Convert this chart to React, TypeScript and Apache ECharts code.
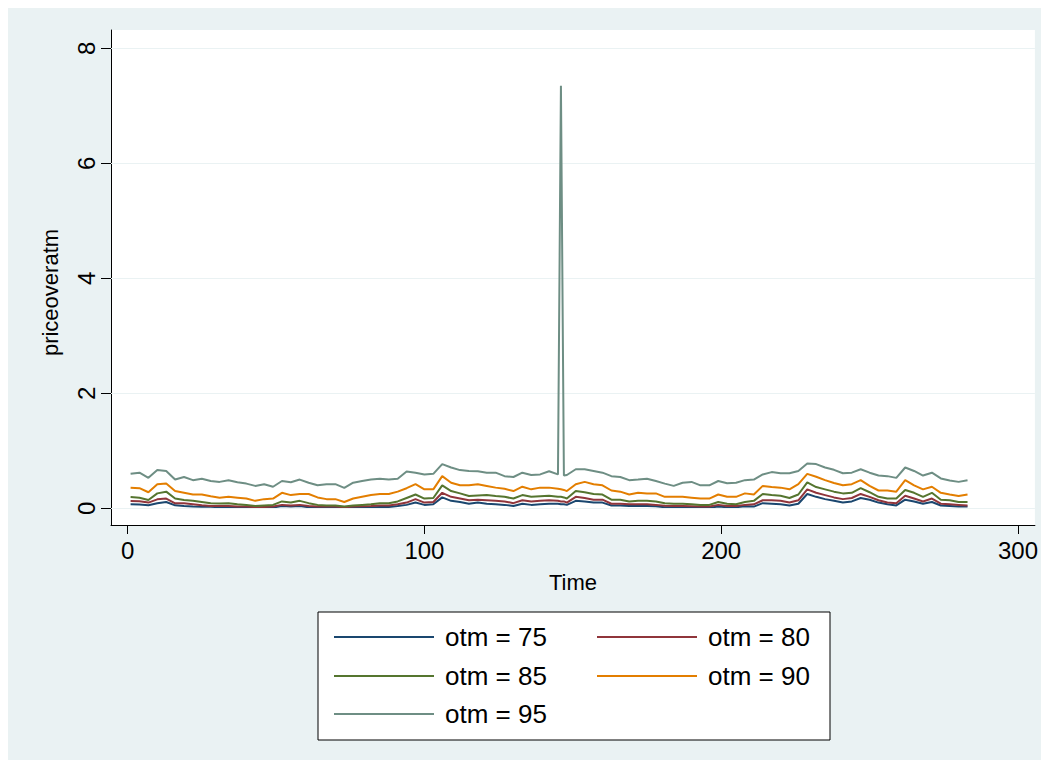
import React, { useEffect, useRef } from "react";
import * as echarts from "echarts";

const times = [
  1, 4, 7, 10, 13, 16, 19, 22, 25, 28, 31, 34,
  37, 40, 43, 46, 49, 52, 55, 58, 61, 64, 67,
  70, 73, 76, 79, 82, 85, 88, 91, 94, 97, 100, 103,
  106, 109, 112, 115, 118, 121, 124, 127, 130, 133, 136, 139,
  142, 145, 146, 147, 148, 151, 154, 157, 160, 163, 166, 169, 172, 175,
  178, 181, 184, 187, 190, 193, 196, 199, 202, 205, 208,
  211, 214, 217, 220, 223, 226, 229, 232, 235, 238, 241, 244,
  247, 250, 253, 256, 259, 262, 265, 268, 271, 274, 277, 280, 283,
];

const otm75 = [
  0.07, 0.068, 0.052, 0.087, 0.11, 0.052, 0.04, 0.03, 0.028, 0.026, 0.02, 0.026,
  0.015, 0.012, 0.008, 0.01, 0.012, 0.04, 0.03, 0.04, 0.02, 0.015, 0.012,
  0.01, 0.005, 0.01, 0.015, 0.02, 0.025, 0.025, 0.04, 0.06, 0.1, 0.06, 0.07,
  0.19, 0.13, 0.11, 0.08, 0.1, 0.08, 0.07, 0.06, 0.04, 0.08, 0.06, 0.07,
  0.08, 0.08, 0.07, 0.07, 0.06, 0.13, 0.12, 0.1, 0.1, 0.05, 0.05, 0.04, 0.04, 0.04,
  0.035, 0.02, 0.02, 0.02, 0.015, 0.01, 0.01, 0.03, 0.02, 0.02, 0.035,
  0.03, 0.09, 0.08, 0.07, 0.05, 0.08, 0.25, 0.2, 0.16, 0.13, 0.1, 0.12,
  0.18, 0.15, 0.1, 0.07, 0.05, 0.15, 0.12, 0.08, 0.11, 0.05, 0.04, 0.03, 0.03,
];

const otm80 = [
  0.127, 0.125, 0.1, 0.156, 0.17, 0.087, 0.087, 0.07, 0.052, 0.04, 0.04, 0.04,
  0.03, 0.03, 0.02, 0.025, 0.03, 0.06, 0.05, 0.06, 0.04, 0.03, 0.03,
  0.03, 0.02, 0.03, 0.035, 0.04, 0.05, 0.05, 0.07, 0.1, 0.16, 0.1, 0.11,
  0.27, 0.2, 0.17, 0.14, 0.15, 0.14, 0.13, 0.12, 0.09, 0.14, 0.12, 0.13,
  0.14, 0.13, 0.12, 0.12, 0.1, 0.2, 0.18, 0.15, 0.15, 0.08, 0.08, 0.07, 0.07, 0.07,
  0.06, 0.045, 0.04, 0.04, 0.035, 0.03, 0.03, 0.06, 0.04, 0.04, 0.06,
  0.07, 0.14, 0.14, 0.13, 0.1, 0.14, 0.33, 0.27, 0.23, 0.19, 0.16, 0.18,
  0.25, 0.2, 0.14, 0.1, 0.09, 0.22, 0.17, 0.12, 0.17, 0.08, 0.07, 0.06, 0.05,
];

const otm85 = [
  0.195, 0.185, 0.145, 0.26, 0.29, 0.17, 0.145, 0.13, 0.11, 0.087, 0.085, 0.087,
  0.07, 0.06, 0.04, 0.05, 0.06, 0.12, 0.1, 0.13, 0.09, 0.06, 0.05,
  0.05, 0.03, 0.05, 0.06, 0.07, 0.09, 0.09, 0.12, 0.18, 0.24, 0.17, 0.18,
  0.4, 0.3, 0.26, 0.214, 0.225, 0.23, 0.214, 0.2, 0.17, 0.23, 0.2, 0.21,
  0.22, 0.2, 0.2, 0.19, 0.17, 0.3, 0.28, 0.25, 0.24, 0.15, 0.15, 0.12, 0.13, 0.13,
  0.12, 0.09, 0.08, 0.08, 0.07, 0.06, 0.06, 0.11, 0.08, 0.07, 0.11,
  0.13, 0.25, 0.23, 0.22, 0.18, 0.24, 0.45, 0.37, 0.33, 0.29, 0.26, 0.27,
  0.35, 0.28, 0.2, 0.17, 0.17, 0.32, 0.27, 0.2, 0.27, 0.15, 0.14, 0.11, 0.11,
];

const otm90 = [
  0.36, 0.35, 0.28, 0.42, 0.43, 0.3, 0.27, 0.24, 0.24, 0.21, 0.185, 0.2,
  0.185, 0.17, 0.13, 0.16, 0.17, 0.27, 0.23, 0.25, 0.25, 0.19, 0.16,
  0.16, 0.11, 0.17, 0.2, 0.23, 0.25, 0.25, 0.29, 0.35, 0.42, 0.33, 0.33,
  0.56, 0.446, 0.4, 0.4, 0.42, 0.39, 0.36, 0.34, 0.3, 0.376, 0.33, 0.36,
  0.36, 0.34, 0.33, 0.32, 0.3, 0.42, 0.46, 0.42, 0.4, 0.31, 0.29, 0.24, 0.27, 0.26,
  0.26, 0.2, 0.2, 0.2, 0.185, 0.17, 0.17, 0.24, 0.2, 0.2, 0.26,
  0.24, 0.39, 0.37, 0.36, 0.33, 0.42, 0.6, 0.55, 0.49, 0.44, 0.4, 0.42,
  0.49, 0.39, 0.31, 0.31, 0.29, 0.49, 0.4, 0.33, 0.376, 0.27, 0.24, 0.214, 0.24,
];

const otm95 = [
  0.6, 0.62, 0.53, 0.665, 0.65, 0.5, 0.545, 0.49, 0.515, 0.475, 0.46, 0.49,
  0.455, 0.43, 0.39, 0.42, 0.375, 0.475, 0.455, 0.5, 0.446, 0.4, 0.42,
  0.42, 0.355, 0.446, 0.475, 0.5, 0.515, 0.5, 0.515, 0.64, 0.62, 0.59, 0.6,
  0.77, 0.71, 0.665, 0.65, 0.645, 0.62, 0.62, 0.56, 0.545, 0.62, 0.58, 0.59,
  0.645, 0.59, 7.35, 0.57, 0.58, 0.68, 0.68, 0.65, 0.62, 0.56, 0.545, 0.49, 0.5, 0.515,
  0.475, 0.43, 0.39, 0.446, 0.46, 0.4, 0.4, 0.475, 0.435, 0.446, 0.49,
  0.5, 0.59, 0.63, 0.61, 0.61, 0.65, 0.78, 0.77, 0.71, 0.67, 0.61, 0.62,
  0.68, 0.62, 0.57, 0.56, 0.53, 0.71, 0.65, 0.57, 0.62, 0.52, 0.485, 0.46, 0.49,
];

const seriesNames = ["otm = 75", "otm = 80", "otm = 85", "otm = 90", "otm = 95"];
const seriesValues = [otm75, otm80, otm85, otm90, otm95];
const colors = ["#1A476F", "#90353B", "#55752F", "#E37E00", "#6E8E84"];
const xTicks = [0, 100, 200, 300];
const yTicks = [0, 2, 4, 6, 8];

const FONT = "'Liberation Sans', Arial, Helvetica, sans-serif";

export default function App() {
  const ref = useRef<HTMLDivElement>(null);

  useEffect(() => {
    if (!ref.current) return;
    const chart = echarts.init(ref.current, undefined, { renderer: "svg" });

    const series: any[] = seriesNames.map((name, i) => ({
      name,
      type: "line",
      data: times.map((t, j) => [t, seriesValues[i][j]]),
      showSymbol: false,
      symbol: "none",
      lineStyle: { color: colors[i], width: 2 },
      itemStyle: { color: colors[i] },
      z: 3 + i,
    }));

    series.push({
      name: "__grid",
      type: "line",
      data: [],
      silent: true,
      z: 1,
      markLine: {
        silent: true,
        symbol: "none",
        label: { show: false },
        lineStyle: { color: "#EAF2F3", width: 1.2, type: "solid" },
        data: yTicks.map((v) => ({ yAxis: v })),
      },
    });

    const legendPos = [
      [321, 611],
      [584, 611],
      [321, 650],
      [584, 650],
      [321, 688],
    ];

    chart.setOption({
      animation: false,
      backgroundColor: "#EAF2F3",
      textStyle: { fontFamily: FONT },
      grid: {
        left: 103,
        top: 22,
        right: 4,
        bottom: 235,
        show: true,
        backgroundColor: "#ffffff",
        borderWidth: 0,
      },
      xAxis: {
        type: "value",
        min: -5.6,
        max: 305.7,
        name: "Time",
        nameLocation: "middle",
        nameGap: 46,
        nameTextStyle: { fontSize: 22, color: "#000", fontFamily: FONT },
        axisLine: { show: true, onZero: false, lineStyle: { color: "#000", width: 1 } },
        axisTick: { show: true, customValues: xTicks, length: 9, lineStyle: { color: "#000" } },
        axisLabel: { customValues: xTicks, fontSize: 24, color: "#000", margin: 13, fontFamily: FONT },
        splitLine: { show: false },
      },
      yAxis: {
        type: "value",
        min: -0.29,
        max: 8.32,
        name: "priceoveratm",
        nameLocation: "middle",
        nameGap: 50,
        nameTextStyle: { fontSize: 22, color: "#000", fontFamily: FONT, padding: [0, 30, 0, 0] },
        axisLine: { show: true, onZero: false, lineStyle: { color: "#000", width: 1 } },
        axisTick: { show: true, customValues: yTicks, length: 10, lineStyle: { color: "#000" } },
        axisLabel: { customValues: yTicks, rotate: 90, fontSize: 24, color: "#000", margin: 13, fontFamily: FONT },
        splitLine: { show: false },
      },
      legend: seriesNames.map((name, i) => ({
        data: [name],
        left: legendPos[i][0],
        top: legendPos[i][1],
        orient: "horizontal",
        icon: "rect",
        itemWidth: 100,
        itemHeight: 2,
        selectedMode: false,
        z: 10,
        textStyle: { fontSize: 26, color: "#000", fontFamily: FONT, padding: [0, 0, 0, 6] },
      })),
      graphic: [
        {
          type: "rect",
          z: 5,
          shape: { x: 310, y: 604, width: 512, height: 128 },
          style: { fill: "#ffffff", stroke: "#000", lineWidth: 1 },
        },
      ],
      series,
    });

    return () => chart.dispose();
  }, []);

  return <div ref={ref} style={{ width: 1033, height: 752 }} />;
}
